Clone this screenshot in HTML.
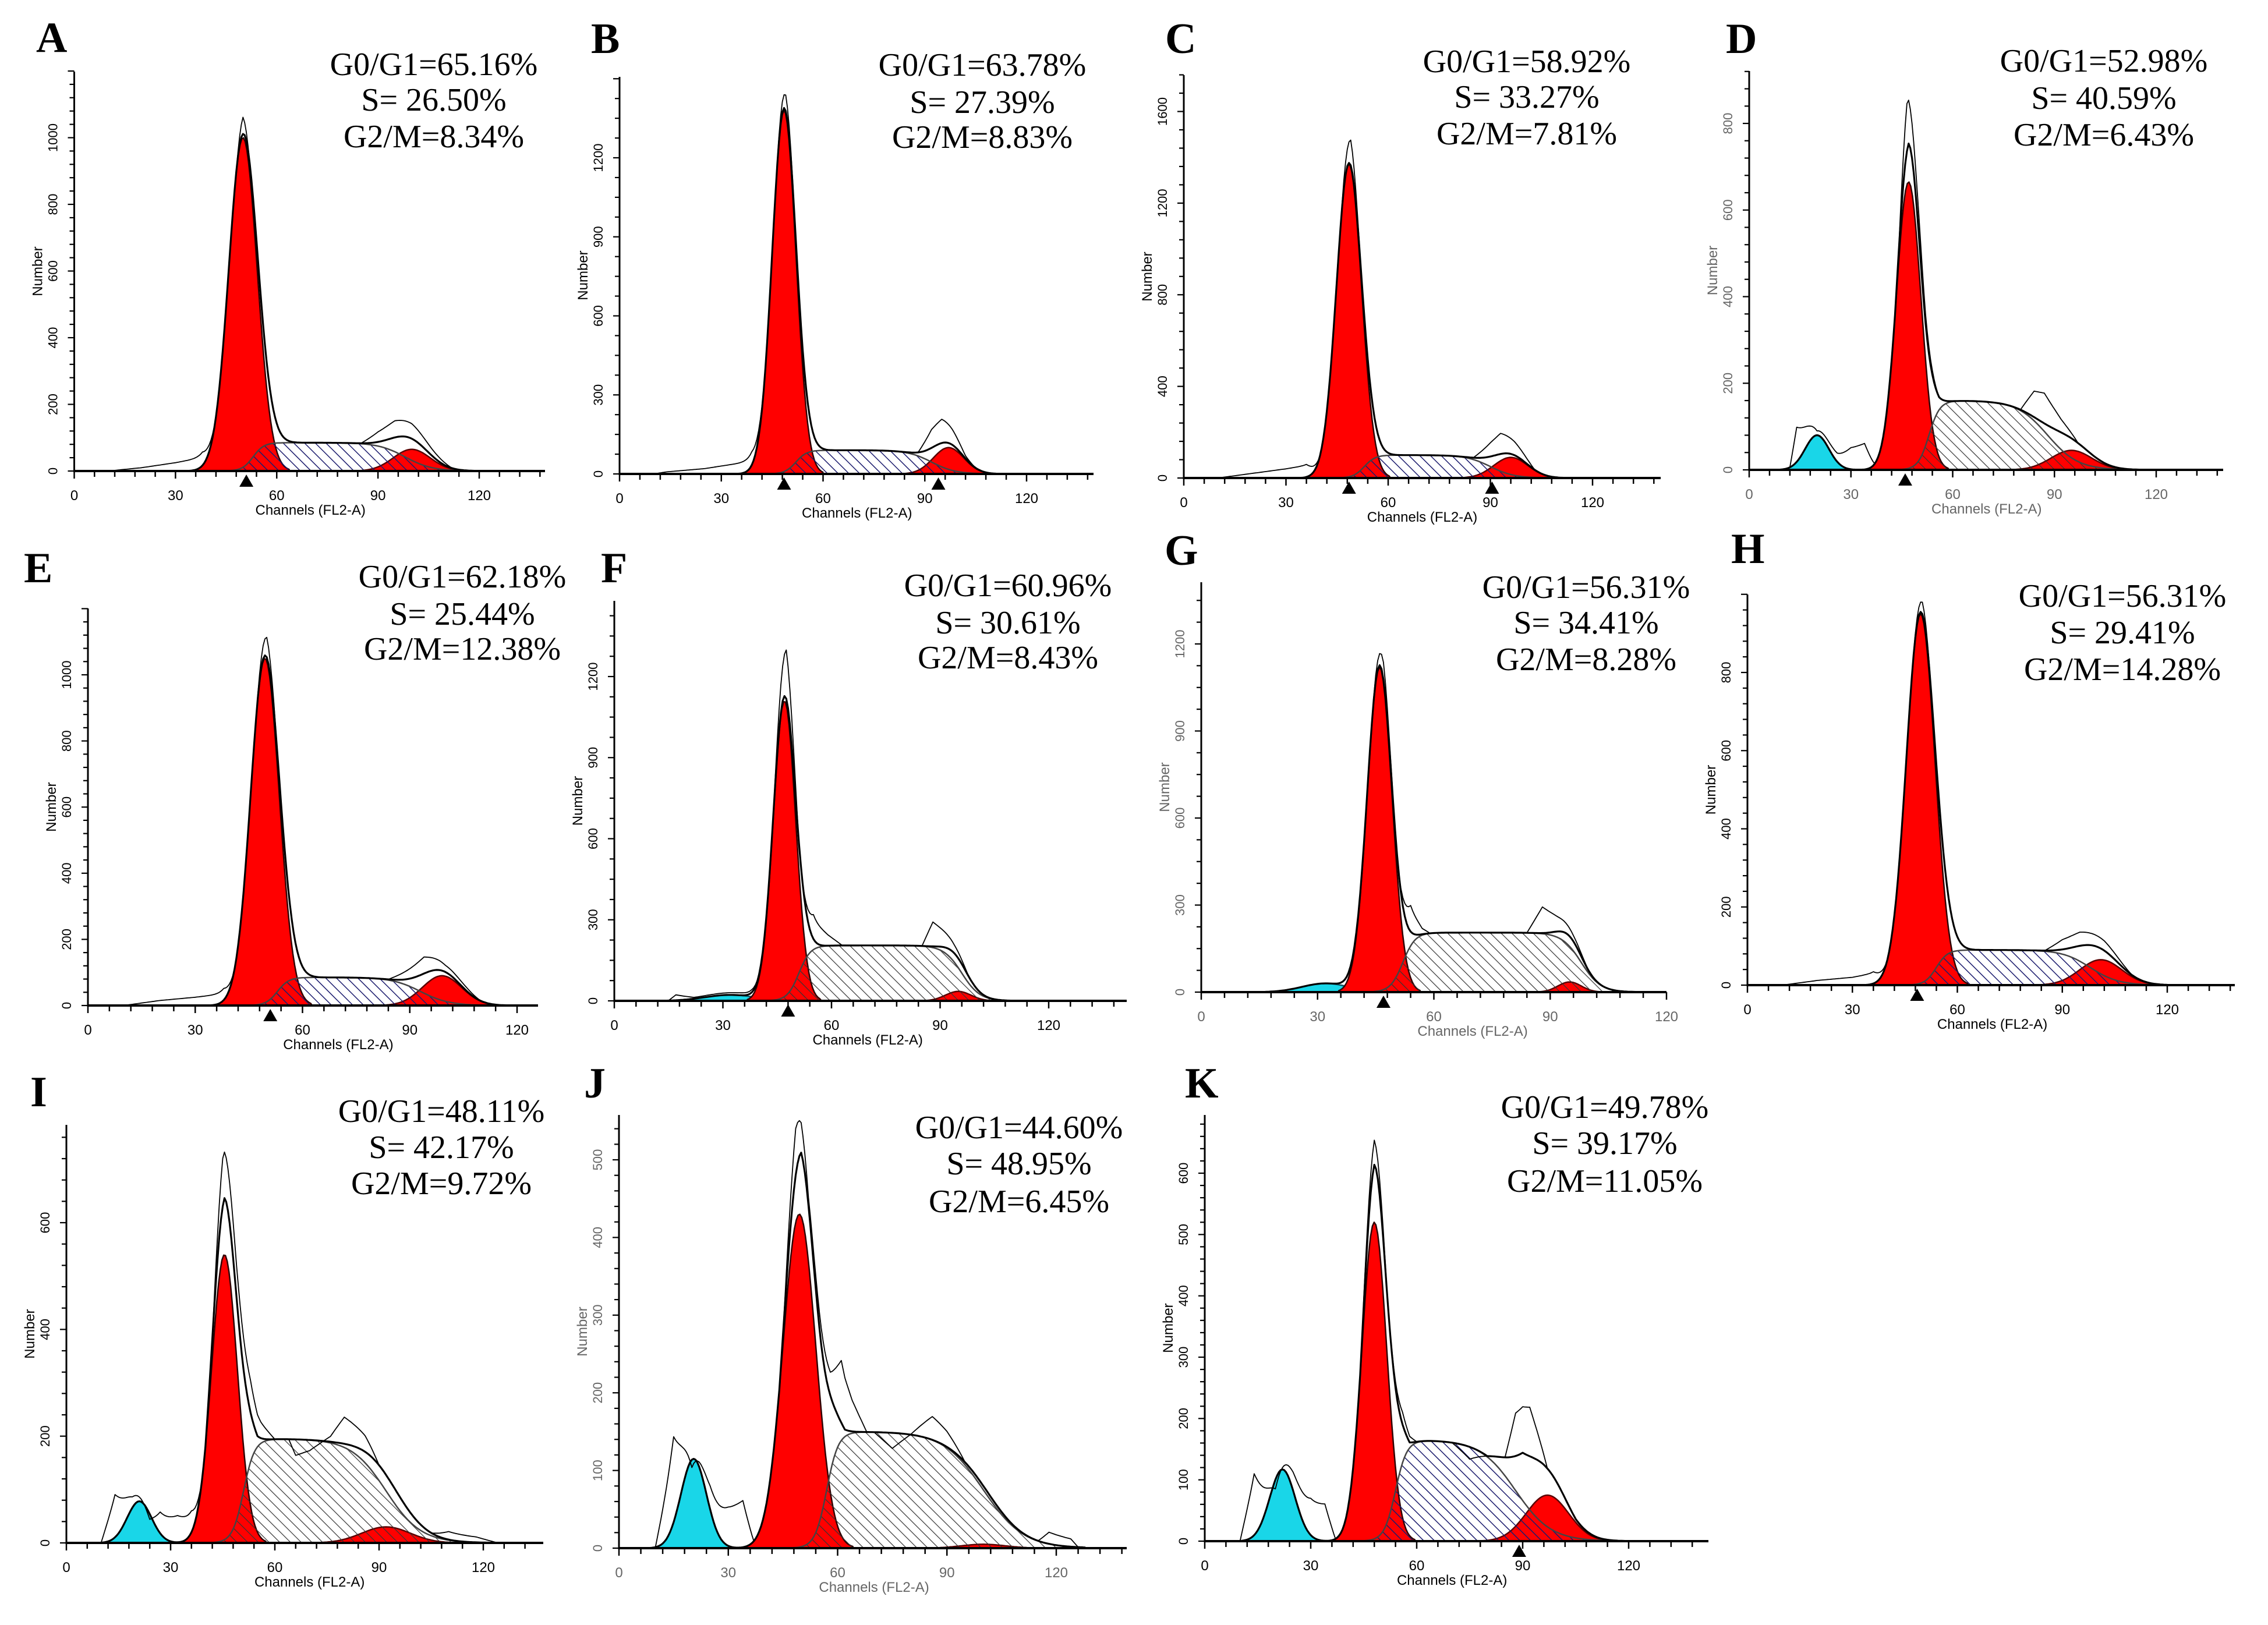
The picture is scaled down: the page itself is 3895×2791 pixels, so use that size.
<!DOCTYPE html>
<html><head><meta charset="utf-8"><title>Cell cycle flow cytometry histograms A-K</title>
<style>html,body{margin:0;padding:0;background:#fff}svg{display:block}</style></head>
<body>
<svg id="fig" xmlns="http://www.w3.org/2000/svg" width="3895" height="2791" viewBox="0 0 3895 2791">
<defs>
<pattern id="hatchNavy" patternUnits="userSpaceOnUse" width="13" height="13" patternTransform="rotate(-45)"><line x1="0" y1="0" x2="0" y2="13" stroke="#1c1c6e" stroke-width="3"/></pattern>
<pattern id="hatchBlack" patternUnits="userSpaceOnUse" width="13" height="13" patternTransform="rotate(-45)"><line x1="0" y1="0" x2="0" y2="13" stroke="#333" stroke-width="2.4"/></pattern>
</defs>
<rect x="0" y="0" width="3895" height="2791" fill="#fff"/>
</svg>
<script>
// ---- data ----
const panelIds   = ['A','B','C','D','E','F','G','H','I','J','K'];
const statsG1    = ['65.16','63.78','58.92','52.98','62.18','60.96','56.31','56.31','48.11','44.60','49.78'];
const statsS     = ['26.50','27.39','33.27','40.59','25.44','30.61','34.41','29.41','42.17','48.95','39.17'];
const statsG2    = ['8.34','8.83','7.81','6.43','12.38','8.43','8.28','14.28','9.72','6.45','11.05'];
const yTicks     = [[0,200,400,600,800,1000],[0,300,600,900,1200],[0,400,800,1200,1600],[0,200,400,600,800],
                    [0,200,400,600,800,1000],[0,300,600,900,1200],[0,300,600,900,1200],[0,200,400,600,800],
                    [0,200,400,600],[0,100,200,300,400,500],[0,100,200,300,400,500,600]];
const xTicks     = [0,30,60,90,120];
const g1Mean     = [50,48.5,48.5,47,49.5,47,46,49.5,45.5,49.5,48];
const g1Height   = [1000,1380,1370,665,1050,1110,1120,950,540,430,520];
const g1Sd       = [4.2,3.5,3.7,3.6,4.0,3.1,3.2,4.1,3.7,4.5,3.5];
const g2Mean     = [100,97,96,95,99,95,95,101,92,100,97];
const g2Height   = [65,100,90,45,90,35,35,65,30,5,75];
const g2Sd       = [5.5,4.5,5,6,5.5,3.5,3,6,7,6,6];
const sHeight    = [85,90,100,160,85,205,205,90,195,150,165];
const sStart     = [53,52,53,53,53,51,52,54,51,57,54];
const sEnd       = [98,92,90,88,93,96,98,98,92,100,88];
const sFallW     = [4,3.5,3.5,4.5,4,2.5,2.5,4,5,5.5,5];
const debrisMean   = [0,0,0,20,0,32,32,0,21,20.5,22];
const debrisHeight = [0,0,0,80,0,22,30,0,78,115,117];
const debrisSd     = [1,1,1,3.5,1,7,6,1,3.5,3.5,3.6];
const markerCh   = [[51],[48.5,94],[48.5,90.5],[46],[51],[48],[47],[48.5],[],[],[89]];
const envExtra   = [[],[],[],[[43,0],[47,85],[52,30],[56,0]],[],[],[],[],
                    [[40,0],[45.5,100],[50,60],[55,0]],[[44,0],[50,80],[56,40],[62,0]],
                    [[44,0],[48,90],[53,60],[58,0],[80,0],[90,40],[97,20],[105,0]]];
const rawExtra = [
 [[10,0],[20,10],[30,25],[38,40],[42,0],[48,0],[50,50],[52,0],[85,0],[90,30],[95,50],[100,45],[106,20],[112,0]],
 [[10,0],[14,8],[25,20],[35,40],[39,50],[43,0],[46,0],[49,60],[52,0],[88,0],[92,70],[95,90],[98,60],[102,10],[105,0]],
 [[10,0],[20,20],[30,40],[36,55],[40,0],[46,0],[49,110],[52,0],[85,0],[90,60],[93,90],[97,60],[103,0]],
 [[12,0],[14,80],[20,10],[26,20],[30,50],[34,60],[37,0],[44,0],[46.5,110],[49,60],[52,20],[56,0],[80,0],[84,60],[87,70],[92,30],[97,0]],
 [[10,0],[20,15],[30,25],[38,35],[41,0],[47,0],[50,60],[53,0],[84,0],[90,30],[94,50],[100,20],[106,10],[110,0]],
 [[15,0],[17,20],[22,5],[38,10],[41,0],[44,0],[47.5,180],[51,0],[52,0],[55,90],[59,40],[63,0],[85,0],[88,90],[91,60],[94,30],[98,0]],
 [[44,0],[47,60],[50,0],[51,0],[54,90],[57,20],[59,0],[84,0],[88,90],[92,50],[96,20],[100,0]],
 [[10,0],[20,12],[30,20],[36,30],[40,0],[47,0],[50,30],[53,0],[85,0],[90,25],[95,35],[102,25],[110,0]],
 [[10,0],[14,80],[19,20],[24,-10],[27,40],[32,50],[36,40],[39,0],[42,0],[45,90],[49,60],[53,60],[56,30],[60,0],[64,0],[66,-30],[70,-20],[76,10],[80,50],[86,30],[90,0],[105,0],[110,15],[118,10],[124,0]],
 [[10,0],[15,110],[20,-10],[25,30],[30,50],[34,60],[37,0],[45,0],[48.5,60],[52,10],[58,30],[61,80],[64,40],[68,0],[70,0],[75,-20],[80,0],[86,30],[90,20],[95,0],[115,0],[118,15],[124,10],[126,0]],
 [[10,0],[14,100],[20,-15],[25,30],[30,60],[34,60],[37,0],[44,0],[48,40],[52,0],[56,20],[60,0],[70,0],[75,-20],[80,0],[85,0],[88,70],[92,80],[97,0]]
];

// ---- layout (pixel geometry, not data) ----
const geom = [
 {x0:127.5,x120:823,base:809,top:123,xEnd:936,refV:1000,refY:236.5,lx:62,ly:89,cx:745,sy:[129,190,253],minor:5,hatch:'hatchNavy',grey:false},
 {x0:1064,x120:1763,base:814,top:132,xEnd:1878,refV:1200,refY:271,lx:1015,ly:91,cx:1687,sy:[130,194,254],minor:4,hatch:'hatchNavy',grey:false},
 {x0:2033,x120:2735,base:821,top:129,xEnd:2852,refV:1600,refY:191.5,lx:2001,ly:91,cx:2622,sy:[124,185,248],minor:5,hatch:'hatchNavy',grey:false},
 {x0:3004,x120:3703,base:807,top:122,xEnd:3818,refV:800,refY:212,lx:2964,ly:91,cx:3613,sy:[123,187,250],minor:5,hatch:'hatchBlack',grey:true},
 {x0:151,x120:888,base:1727,top:1045,xEnd:924,refV:1000,refY:1159,lx:41,ly:1000,cx:794,sy:[1009,1073,1133],minor:5,hatch:'hatchNavy',grey:false},
 {x0:1055,x120:1801,base:1719,top:1032,xEnd:1935,refV:1200,refY:1162,lx:1032,ly:1000,cx:1731,sy:[1024,1088,1148],minor:4,hatch:'hatchBlack',grey:false},
 {x0:2063,x120:2862,base:1704,top:1000,xEnd:2862,refV:1200,refY:1106,lx:2000,ly:970,cx:2724,sy:[1027,1088,1151],minor:4,hatch:'hatchBlack',grey:true},
 {x0:3001,x120:3722,base:1692,top:1021,xEnd:3838,refV:800,refY:1155,lx:2973,ly:967,cx:3645,sy:[1042,1105,1168],minor:5,hatch:'hatchNavy',grey:false},
 {x0:114,x120:830,base:2650,top:1932,xEnd:933,refV:600,refY:2100,lx:52,ly:1900,cx:758,sy:[1927,1989,2051],minor:5,hatch:'hatchBlack',grey:false},
 {x0:1063,x120:1814,base:2659,top:1915,xEnd:1935,refV:500,refY:1992,lx:1003,ly:1885,cx:1750,sy:[1955,2017,2082],minor:5,hatch:'hatchBlack',grey:true},
 {x0:2069,x120:2797,base:2647,top:1915,xEnd:2934,refV:600,refY:2015,lx:2035,ly:1885,cx:2756,sy:[1920,1982,2047],minor:5,hatch:'hatchNavy',grey:false}
];

const NS='http://www.w3.org/2000/svg';
const svg=document.getElementById('fig');
function mk(tag,attrs,parent){const e=document.createElementNS(NS,tag);for(const k in attrs)e.setAttribute(k,attrs[k]);(parent||svg).appendChild(e);return e;}
function gauss(c,m,h,s){return h*Math.exp(-0.5*((c-m)/s)*((c-m)/s));}
function sig(z){return 1/(1+Math.exp(-z));}
function interp(pts,c){
  for(let k=0;k<pts.length-1;k++){const a=pts[k],b=pts[k+1];
    if(c>=a[0]&&c<=b[0]&&b[0]>a[0]){return a[1]+(b[1]-a[1])*(c-a[0])/(b[0]-a[0]);}}
  return 0;}

panelIds.forEach((id,i)=>{
  const g=geom[i];
  const sx=(g.x120-g.x0)/120, sy=(g.base-g.refY)/g.refV;
  const X=c=>g.x0+c*sx, Y=v=>g.base-v*sy;
  const chMax=(g.xEnd-g.x0)/sx;
  const grp=mk('g',{});
  
  

  const G1=c=>gauss(c,g1Mean[i],g1Height[i],g1Sd[i]);
  const G2=c=>gauss(c,g2Mean[i],g2Height[i],g2Sd[i]);
  const S=c=>sHeight[i]*sig((c-sStart[i])/1.6)*(1-sig((c-sEnd[i])/sFallW[i]));
  const D=c=>debrisHeight[i]>0?gauss(c,debrisMean[i],debrisHeight[i],debrisSd[i]):0;
  const ENV=c=>G1(c)+G2(c)+S(c)+D(c)+interp(envExtra[i],c);
  const RAW=c=>Math.max(0,ENV(c)+interp(rawExtra[i],c));

  function area(fn,a,b,fill,stroke,name){
    let d='M'+X(a).toFixed(1)+','+g.base;
    for(let c=a;c<=b;c+=0.5)d+=' L'+X(c).toFixed(1)+','+Y(fn(c)).toFixed(1);
    d+=' L'+X(b).toFixed(1)+','+g.base+' Z';
    const p=mk('path',{d:d,fill:fill,stroke:stroke,'stroke-width':2.5,'stroke-linejoin':'round'},grp);
    
    
    return p;}
  function line(fn,a,b,w,name){
    let d='';
    for(let c=a;c<=b;c+=0.5)d+=(d?' L':'M')+X(c).toFixed(1)+','+Y(fn(c)).toFixed(1);
    const p=mk('path',{d:d,fill:'none',stroke:'#000','stroke-width':w,'stroke-linejoin':'round'},grp);
    
    }

  if(debrisHeight[i]>0){
    const dm=debrisMean[i],ds=debrisSd[i];
    area(D,Math.max(0,dm-3.2*ds),dm+3.2*ds,'#19d6e8','#0a5060','debris-peak-fill');}
  area(G2,g2Mean[i]-3.5*g2Sd[i],Math.min(chMax,g2Mean[i]+3.5*g2Sd[i]),'#ff0000','#5a0000','g2m-peak-fill');
  area(G1,g1Mean[i]-3.3*g1Sd[i],g1Mean[i]+3.3*g1Sd[i],'#ff0000','#300000','g0g1-peak-fill');
  area(S,sStart[i]-9,Math.min(chMax,sEnd[i]+5*sFallW[i]),'url(#'+g.hatch+')','#444','s-phase-hatched-area');
  line(ENV,4,Math.min(chMax,128),3.2,'fitted-envelope-line');
  line(RAW,8,Math.min(chMax,128),1.8,'raw-histogram-line');

  const ax=mk('line',{x1:g.x0,y1:g.base,x2:g.xEnd,y2:g.base,stroke:'#000','stroke-width':4},grp);
  
  
  const ay=mk('line',{x1:g.x0,y1:g.base+2,x2:g.x0,y2:g.top,stroke:'#000','stroke-width':3},grp);
  
  
  const tickCol=g.grey?'#666':'#000';
  for(let c=0;c<=chMax+0.01;c+=6){
    const major=(c%30===0);
    const t=mk('line',{x1:X(c),y1:g.base,x2:X(c),y2:g.base+(major?13:10),stroke:'#000','stroke-width':2.5},grp);
    
    }
  xTicks.forEach(v=>{
    if(v>chMax+0.01)return;
    const t=mk('text',{x:X(v),y:g.base+50,'text-anchor':'middle','font-family':'Liberation Sans, Arial, sans-serif','font-size':24,fill:tickCol},grp);
    t.textContent=v;
    
    });
  const yt=yTicks[i], step=yt[1]-yt[0], mstep=step/g.minor;
  for(let v=0;Y(v)>=g.top-1;v+=mstep){
    const major=Math.abs(v/step-Math.round(v/step))<1e-6;
    const t=mk('line',{x1:g.x0,y1:Y(v),x2:g.x0-(major?11:8),y2:Y(v),stroke:'#000','stroke-width':2.2},grp);
    
    }
  yt.forEach(v=>{
    const t=mk('text',{x:g.x0-29,y:Y(v),'text-anchor':'middle','font-family':'Liberation Sans, Arial, sans-serif','font-size':22,fill:tickCol,transform:'rotate(-90 '+(g.x0-29)+' '+Y(v)+')'},grp);
    t.textContent=v;
    
    });
  const xl=mk('text',{x:X(70),y:g.base+75,'text-anchor':'middle','font-family':'Liberation Sans, Arial, sans-serif','font-size':24,fill:tickCol},grp);
  xl.textContent='Channels (FL2-A)';
  
  
  const ymid=(g.top+g.base)/2;
  const yl=mk('text',{x:g.x0-55,y:ymid,'text-anchor':'middle','font-family':'Liberation Sans, Arial, sans-serif','font-size':24,fill:tickCol,transform:'rotate(-90 '+(g.x0-55)+' '+ymid+')'},grp);
  yl.textContent='Number';
  
  
  markerCh[i].forEach(c=>{
    const m=mk('polygon',{points:X(c)+','+(g.base+6)+' '+(X(c)-12)+','+(g.base+27)+' '+(X(c)+12)+','+(g.base+27),fill:'#000'},grp);
    
    });
  const pl=mk('text',{x:g.lx,y:g.ly,'font-family':'Liberation Serif, Times New Roman, serif','font-size':74,'font-weight':'bold',fill:'#000'},grp);
  pl.textContent=id;
  
  
  const lines=['G0/G1='+statsG1[i]+'%','S= '+statsS[i]+'%','G2/M='+statsG2[i]+'%'];
  lines.forEach((s,k)=>{
    const t=mk('text',{x:g.cx,y:g.sy[k],'text-anchor':'middle','font-family':'Liberation Serif, Times New Roman, serif','font-size':56,fill:'#000'},grp);
    t.textContent=s;
    
    });
});
</script>
</body></html>
